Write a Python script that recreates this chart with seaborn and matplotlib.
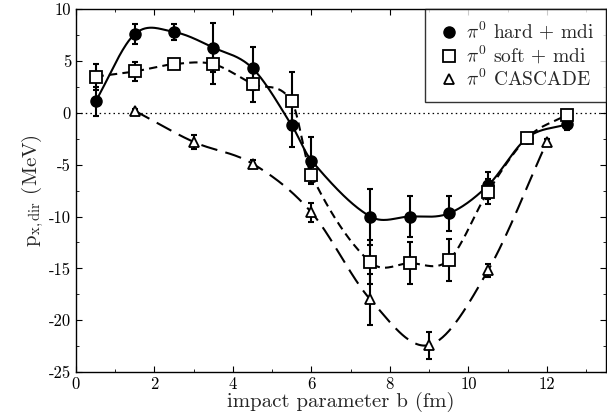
import seaborn as sns
import matplotlib.pyplot as plt
import numpy as np

# impact parameter b (fm) and p_x,dir (MeV)
b_mdi = [0.5, 1.5, 2.5, 3.5, 4.5, 5.5, 6.0, 7.5, 8.5, 9.5, 10.5, 11.5, 12.5]
hard_mdi = [1.1, 7.6, 7.8, 6.3, 4.3, -1.2, -4.6, -10.0, -10.0, -9.7, -7.0, -2.4, -1.1]
hard_err = [1.4, 1.0, 0.75, 2.4, 2.1, 2.1, 2.3, 2.7, 2.0, 1.65, 1.3, 0.5, 0.6]
soft_mdi = [3.5, 4.0, 4.7, 4.7, 2.8, 1.1, -6.0, -14.4, -14.5, -14.2, -7.6, -2.4, -0.2]
soft_err = [1.25, 0.9, 0.4, 1.9, 1.8, 2.8, 0.8, 2.1, 2.0, 2.0, 1.2, 0.5, 0.3]

b_cas = [1.5, 3.0, 4.5, 6.0, 7.5, 9.0, 10.5, 12.0]
cascade = [0.2, -2.8, -4.9, -9.6, -18.0, -22.4, -15.2, -2.8]
cas_err = [0.2, 0.7, 0.4, 0.9, 2.5, 1.3, 0.6, 0.3]

labels = [r'$\pi^0$ hard + mdi', r'$\pi^0$ soft + mdi', r'$\pi^0$ CASCADE']


def smooth(x, y, n=400):
    # cubic hermite (catmull-rom style tangents) through the points, for the guide curves
    x = np.asarray(x, float)
    y = np.asarray(y, float)
    m = len(x)
    d = np.zeros(m)
    d[0] = (y[1] - y[0]) / (x[1] - x[0])
    d[-1] = (y[-1] - y[-2]) / (x[-1] - x[-2])
    d[1:-1] = (y[2:] - y[:-2]) / (x[2:] - x[:-2])
    xs = np.linspace(x[0], x[-1], n)
    k = np.clip(np.searchsorted(x, xs) - 1, 0, m - 2)
    h = x[k + 1] - x[k]
    t = (xs - x[k]) / h
    h00 = 2 * t**3 - 3 * t**2 + 1
    h10 = t**3 - 2 * t**2 + t
    h01 = -2 * t**3 + 3 * t**2
    h11 = t**3 - t**2
    ys = h00 * y[k] + h10 * h * d[k] + h01 * y[k + 1] + h11 * h * d[k + 1]
    return xs, ys


sns.set_style('ticks')
plt.rcParams['font.family'] = ['cmr10', 'DejaVu Serif']
plt.rcParams['mathtext.fontset'] = 'cm'
plt.rcParams['axes.unicode_minus'] = False
plt.rcParams['axes.formatter.use_mathtext'] = False

fig = plt.figure(figsize=(6.07, 4.18), dpi=100)
ax = fig.add_axes([0.125, 0.11, 0.873, 0.868])

ax.axhline(0, color='black', linestyle=(0, (1.2, 2.5)), linewidth=0.9)

xs, ys = smooth(b_mdi, hard_mdi)
sns.lineplot(x=xs, y=ys, ax=ax, color='black', linewidth=1.5, linestyle='-')
xs, ys = smooth(b_mdi, soft_mdi)
sns.lineplot(x=xs, y=ys, ax=ax, color='black', linewidth=1.5, linestyle=(0, (4, 2.5)))
xs, ys = smooth(b_cas, cascade)
sns.lineplot(x=xs, y=ys, ax=ax, color='black', linewidth=1.5, linestyle=(0, (8, 4)))

ekw = dict(fmt='none', ecolor='black', elinewidth=1.5, capsize=2.5, capthick=1.5)
ax.errorbar(b_mdi, hard_mdi, yerr=hard_err, **ekw)
ax.errorbar(b_mdi, soft_mdi, yerr=soft_err, **ekw)
ax.errorbar(b_cas, cascade, yerr=cas_err, **ekw)

ax.plot(b_mdi, hard_mdi, 'o', color='black', ms=8, label=labels[0])
ax.plot(b_mdi, soft_mdi, 's', mfc='white', mec='black', mew=1.3, ms=8, label=labels[1])
ax.plot(b_cas, cascade, '^', mfc='white', mec='black', mew=1.3, ms=7, label=labels[2])

ax.set_xlim(0, 13.5)
ax.set_ylim(-25, 10)
ax.set_xticks([0, 2, 4, 6, 8, 10, 12])
ax.set_xticks(np.arange(0, 13.6, 1), minor=True)
ax.set_yticks([-25, -20, -15, -10, -5, 0, 5, 10])
ax.set_yticks(np.arange(-25, 10.1, 2.5), minor=True)
ax.tick_params(which='both', direction='in', top=True, right=True, labelsize=12, colors='black')
ax.tick_params(which='major', length=4)
ax.tick_params(which='minor', length=2)
for s in ax.spines.values():
    s.set_visible(True)
    s.set_color('black')
    s.set_linewidth(1.0)

ax.set_xlabel('impact parameter b (fm)', fontsize=15, labelpad=0)
ax.set_ylabel(r'$\mathrm{p_{x,dir}}$ (MeV)', fontsize=15, labelpad=2)

leg = ax.legend(loc='upper right', borderaxespad=0, fontsize=14, frameon=True,
                fancybox=False, edgecolor='black', handletextpad=0.3,
                handlelength=1.2, labelspacing=0.1, borderpad=0.6)
leg.get_frame().set_linewidth(1.0)

fig.savefig('out.png', dpi=100)
